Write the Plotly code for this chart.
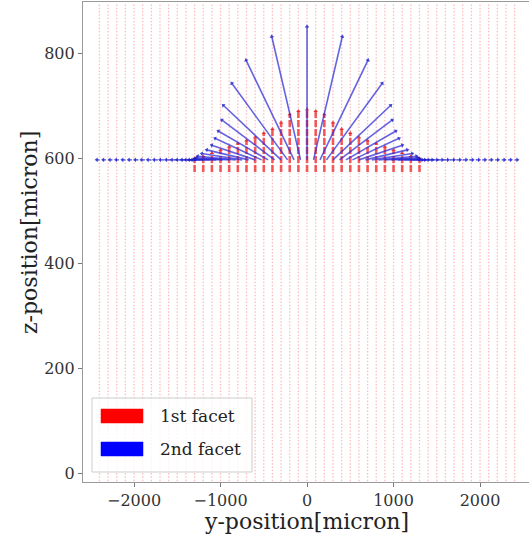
import math
import plotly.graph_objects as go

# ---------------- data ----------------
# 1st facet: grid of (mostly tiny) vertical arrows, one column every 100 micron
red_col_y = [-2400, -2300, -2200, -2100, -2000, -1900, -1800, -1700, -1600, -1500,
             -1400, -1300, -1200, -1100, -1000, -900, -800, -700, -600, -500,
             -400, -300, -200, -100, 0, 100, 200, 300, 400, 500, 600, 700, 800,
             900, 1000, 1100, 1200, 1300, 1400, 1500, 1600, 1700, 1800, 1900,
             2000, 2100, 2200, 2300, 2400]
red_grid_z = [-15, 893]
# long red arrows near the facet (half profile, mirrored)
red_strong_y = [0, 100, 200, 300, 400, 500, 600, 700, 800, 900, 1000, 1100, 1200, 1300]
red_strong_top = [693, 690, 684, 668, 656, 648, 640, 634, 628, 622, 616, 610, 604, 600]
red_strong_bottom = 574

# 2nd facet: arrows starting on the facet line (half profile, mirrored)
blue_base_z = 597
blue_base_y = [0, 75, 150, 225, 300, 375, 450, 525, 600, 675, 750, 825, 900, 975,
               1050, 1125, 1200, 1275, 1350, 1425, 1500, 1575, 1650, 1725, 1800,
               1875, 1950, 2025, 2100, 2175, 2250, 2325, 2400]
blue_dy = [0, 333, 555, 645, 668, 611, 577, 539, 502, 485, 467, 440, 380, 320,
           260, 210, 165, 130, 100, 80, 65, 55, 50, 45, 42, 40, 38, 36, 35, 34,
           33, 32, 32]
blue_dz = [254, 235, 190, 146, 104, 76, 55, 41, 28, 19, 12, 7, 4, 2, 1, 0, 0, 0,
           0, 0, 0, 0, 0, 0, 0, 0, 0, 0, 0, 0, 0, 0, 0]

x_ticks = [-2000, -1000, 0, 1000, 2000]
x_tick_text = ["\u22122000", "\u22121000", "0", "1000", "2000"]
y_ticks = [0, 200, 400, 600, 800]

# ---------------- layout constants ----------------
W, H = 529, 541
ML, MR, MT, MB = 83, 0, 2, 59
XR = [-2590, 2566]
YR = [-16.6, 897.7]
FONT = "DejaVu Serif"

pw = W - ML - MR
ph = H - MT - MB
sx = pw / (XR[1] - XR[0])
sy = ph / (YR[1] - YR[0])

fig = go.Figure()

# tiny red grid arrows (dotted columns)
gx, gy = [], []
for c in red_col_y:
    gx += [c, c, None]
    gy += [red_grid_z[0], red_grid_z[1], None]
fig.add_trace(go.Scatter(x=gx, y=gy, mode="lines", hoverinfo="skip", showlegend=False,
                         line=dict(color="rgba(255,70,70,0.36)", width=1.3, dash="1.5px,1.8px")))

# strong red arrows
sxs, sys_, tx, ty = [], [], [], []
for yv, top in zip(red_strong_y, red_strong_top):
    for s in ([1] if yv == 0 else [-1, 1]):
        sxs += [s * yv, s * yv, None]
        sys_ += [red_strong_bottom, top, None]
        tx.append(s * yv)
        ty.append(top)
fig.add_trace(go.Scatter(x=sxs, y=sys_, mode="lines", hoverinfo="skip", showlegend=False,
                         line=dict(color="rgba(240,30,30,0.72)", width=2.6, dash="7px,2px")))
fig.add_trace(go.Scatter(x=tx, y=ty, mode="markers", hoverinfo="skip", showlegend=False,
                         marker=dict(symbol="triangle-up", size=4, color="rgba(230,30,30,0.8)")))

# blue arrows
bx, by, hx, hy, ha = [], [], [], [], []
for b, dy, dz in zip(blue_base_y, blue_dy, blue_dz):
    for s in ([1] if b == 0 else [-1, 1]):
        x0, x1 = s * b, s * (b + dy)
        z0, z1 = blue_base_z, blue_base_z + dz
        bx += [x0, x1, None]
        by += [z0, z1, None]
        hx.append(x1)
        hy.append(z1)
        ha.append(math.degrees(math.atan2((x1 - x0) * sx, (z1 - z0) * sy)))
fig.add_trace(go.Scatter(x=bx, y=by, mode="lines", hoverinfo="skip", showlegend=False,
                         line=dict(color="rgba(40,40,215,0.72)", width=1.6)))
fig.add_trace(go.Scatter(x=hx, y=hy, mode="markers", hoverinfo="skip", showlegend=False,
                         marker=dict(symbol="triangle-up", size=4, angle=ha,
                                     color="rgba(30,30,200,0.8)")))

# ---------------- manual legend ----------------
def px(xp):
    return (xp - ML) / pw

def py(yp):
    return (H - MB - yp) / ph

shapes = [
    dict(type="rect", xref="paper", yref="paper", x0=px(92), x1=px(252), y0=py(472), y1=py(398),
         line=dict(color="rgba(205,205,205,1)", width=1), fillcolor="rgba(255,255,255,0.8)", layer="above"),
    dict(type="rect", xref="paper", yref="paper", x0=px(101), x1=px(143), y0=py(423), y1=py(409),
         line=dict(color="red", width=0.5), fillcolor="red", layer="above"),
    dict(type="rect", xref="paper", yref="paper", x0=px(101), x1=px(143), y0=py(456), y1=py(442),
         line=dict(color="blue", width=0.5), fillcolor="blue", layer="above"),
]
annotations = [
    dict(text="1st facet", xref="paper", yref="paper", x=px(158), y=py(416), xanchor="left",
         yanchor="middle", showarrow=False, font=dict(family=FONT, size=17, color="#222")),
    dict(text="2nd facet", xref="paper", yref="paper", x=px(158), y=py(449), xanchor="left",
         yanchor="middle", showarrow=False, font=dict(family=FONT, size=17, color="#222")),
    dict(text="y-position[micron]", xref="paper", yref="paper", x=px(306), y=py(521),
         xanchor="center", yanchor="middle", showarrow=False,
         font=dict(family=FONT, size=22, color="#222")),
    dict(text="z-position[micron]", xref="paper", yref="paper", x=px(30), y=py(233),
         xanchor="center", yanchor="middle", textangle=-90, showarrow=False,
         font=dict(family=FONT, size=22, color="#222")),
]

fig.update_layout(
    width=W, height=H,
    margin=dict(l=ML, r=MR, t=MT, b=MB, pad=0, autoexpand=False),
    paper_bgcolor="white", plot_bgcolor="white",
    showlegend=False,
    shapes=shapes, annotations=annotations,
    xaxis=dict(range=XR, tickvals=x_ticks, ticktext=x_tick_text, showgrid=False, zeroline=False,
               showline=True, linecolor="#9a9a9a", linewidth=1.2, mirror=True,
               ticks="outside", ticklen=4, tickcolor="#777", automargin=False,
               tickfont=dict(family=FONT, size=16, color="#333")),
    yaxis=dict(range=YR, tickvals=y_ticks, showgrid=False, zeroline=False,
               showline=True, linecolor="#9a9a9a", linewidth=1.2, mirror=False,
               ticks="outside", ticklen=4, tickcolor="#777", automargin=False,
               tickfont=dict(family=FONT, size=16, color="#333")),
)

fig.write_html("out.html", config={"displayModeBar": False},
               post_script="document.body.style.margin='0';")
